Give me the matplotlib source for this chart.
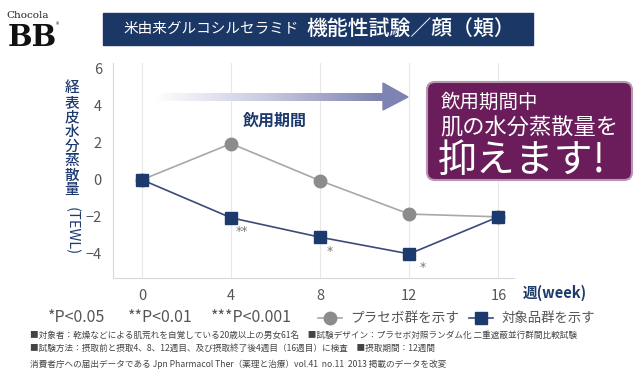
import numpy as np
import matplotlib
matplotlib.use("Agg")
import matplotlib.pyplot as plt
from matplotlib.patches import FancyBboxPatch, Polygon, Rectangle
from matplotlib.colors import LinearSegmentedColormap

plt.rcParams['font.family'] = ['Noto Sans CJK JP', 'DejaVu Sans']

weeks = [0, 4, 8, 12, 16]
placebo = [0.0, 1.95, -0.05, -1.85, -2.0]
target = [0.0, -2.05, -3.1, -4.0, -2.0]
yticks = [-4, -2, 0, 2, 4, 6]
marks = [(4, -2.05, '**', 11), (8, -3.1, '*', 10), (12, -4.0, '*', 13)]

navy = '#1d3a6e'
gray = '#555555'

W, H = 640, 373
fig = plt.figure(figsize=(W / 100, H / 100), dpi=100)
fig.patch.set_facecolor('white')

# main chart
ax = fig.add_axes([113 / W, (H - 278) / H, (514 - 113) / W, (278 - 63) / H])
ax.plot(weeks, placebo, color='#a8a8a8', lw=1.2, marker='o', ms=9,
        mfc='#8c8c8c', mec='#8c8c8c', zorder=3)
ax.plot(weeks, target, color='#3b4a78', lw=1.2, marker='s', ms=8.5,
        mfc=navy, mec=navy, zorder=4)
for x, y, s, dx in marks:
    ax.annotate(s, (x, y), xytext=(dx, -14), textcoords='offset pixels',
                color='#777777', fontsize=9, ha='center', va='center',
                family='DejaVu Sans')

ax.set_xlim(-1.3, 16.7)
ax.set_ylim(-5.3, 6.3)
ax.set_xticks(weeks)
ax.set_yticks(yticks)
ax.tick_params(length=0, labelsize=10.5, labelcolor=gray, pad=8)
ax.grid(axis='x', color='#e8e8e8', lw=0.8)
ax.set_axisbelow(True)
for s in ['top', 'right']:
    ax.spines[s].set_visible(False)
for s in ['left', 'bottom']:
    ax.spines[s].set_color('#d8d8d8')

# overlay in pixel coordinates
ov = fig.add_axes([0, 0, 1, 1], zorder=10)
ov.patch.set_alpha(0)

# logo
ov.text(28, 15, 'Chocola', fontsize=7.5, ha='center', va='center',
        family='DejaVu Serif', color='#222')
ov.text(32, 37, 'BB', fontsize=21, ha='center', va='center', family='DejaVu Serif',
        weight='bold', color='#111')
ov.text(58, 25, '®', fontsize=5, ha='center', va='center', color='#222')

# title banner
ov.add_patch(Rectangle((103, 13), 430, 32, color='#1b3766'))
ov.text(123, 29, '米由来グルコシルセラミド', fontsize=10.5, color='white', va='center')
ov.text(306, 28.5, '機能性試験／顔（頬）', fontsize=15, color='white', va='center',
        weight='medium')

# gradient arrow
grad = np.linspace(0, 1, 256).reshape(1, -1)
cm = LinearSegmentedColormap.from_list('g', ['#ffffff', '#c6c8de', '#7c80b0'])
ov.imshow(grad, cmap=cm, extent=(155, 385, 101, 93), aspect='auto', zorder=2)
ov.add_patch(Polygon([(383, 83), (408, 97), (383, 110)], closed=True,
                     color='#7e83b2', zorder=2))
ov.text(275, 121, '飲用期間', fontsize=11.5, color=navy, ha='center', va='center',
        weight='bold')

# purple box
ov.add_patch(FancyBboxPatch((427, 82), 205, 98, boxstyle='round,pad=0,rounding_size=8',
                            fc='#6a1d5a', ec='#b996b0', lw=1.5))
ov.text(441, 102, '飲用期間中', fontsize=14, color='white', va='center')
ov.text(440, 128, '肌の水分蒸散量を', fontsize=16, color='white', va='center')
ov.text(438, 161, '抑えます!', fontsize=28, color='white', va='center')

# y label
ylab = '経表皮水分蒸散量'
for i, ch in enumerate(ylab):
    ov.text(72, 88 + i * 14.6, ch, fontsize=10.5, color=navy, ha='center', va='center',
            weight='medium')
ov.text(72, 231, '(TEWL)', fontsize=10.5, color=navy, ha='center', va='center',
        rotation=-90)

ov.text(523, 293, '週(week)', fontsize=10.5, color=navy, va='center', weight='bold')

# legend line
ov.text(48, 318, '*P<0.05', fontsize=11.5, color=gray, va='center')
ov.text(128, 318, '**P<0.01', fontsize=11.5, color=gray, va='center')
ov.text(211, 318, '***P<0.001', fontsize=11.5, color=gray, va='center')
ov.plot([318, 342], [318, 318], color='#a8a8a8', lw=1.2)
ov.plot([330], [318], marker='o', ms=9, color='#8c8c8c')
ov.text(350, 318, 'プラセボ群を示す', fontsize=9.8, color=gray, va='center')
ov.plot([469, 493], [318, 318], color='#3b4a78', lw=1.2)
ov.plot([481], [318], marker='s', ms=8, color=navy)
ov.text(502, 318, '対象品群を示す', fontsize=9.6, color=gray, va='center')

# footnotes
fn = '#444444'
ov.text(30, 335, '■対象者：乾燥などによる肌荒れを自覚している20歳以上の男女61名　■試験デザイン：プラセボ対照ランダム化 二重遮蔽並行群間比較試験',
        fontsize=6.2, color=fn, va='center')
ov.text(30, 348, '■試験方法：摂取前と摂取4、8、12週目、及び摂取終了後4週目（16週目）に検査　■摂取期間：12週間',
        fontsize=6.2, color=fn, va='center')
ov.text(30, 364, '消費者庁への届出データである Jpn Pharmacol Ther（薬理と治療）vol.41  no.11  2013 掲載のデータを改変',
        fontsize=6.2, color=fn, va='center')

ov.set_xlim(0, W)
ov.set_ylim(H, 0)
ov.axis('off')

fig.savefig('out.png', dpi=100)
